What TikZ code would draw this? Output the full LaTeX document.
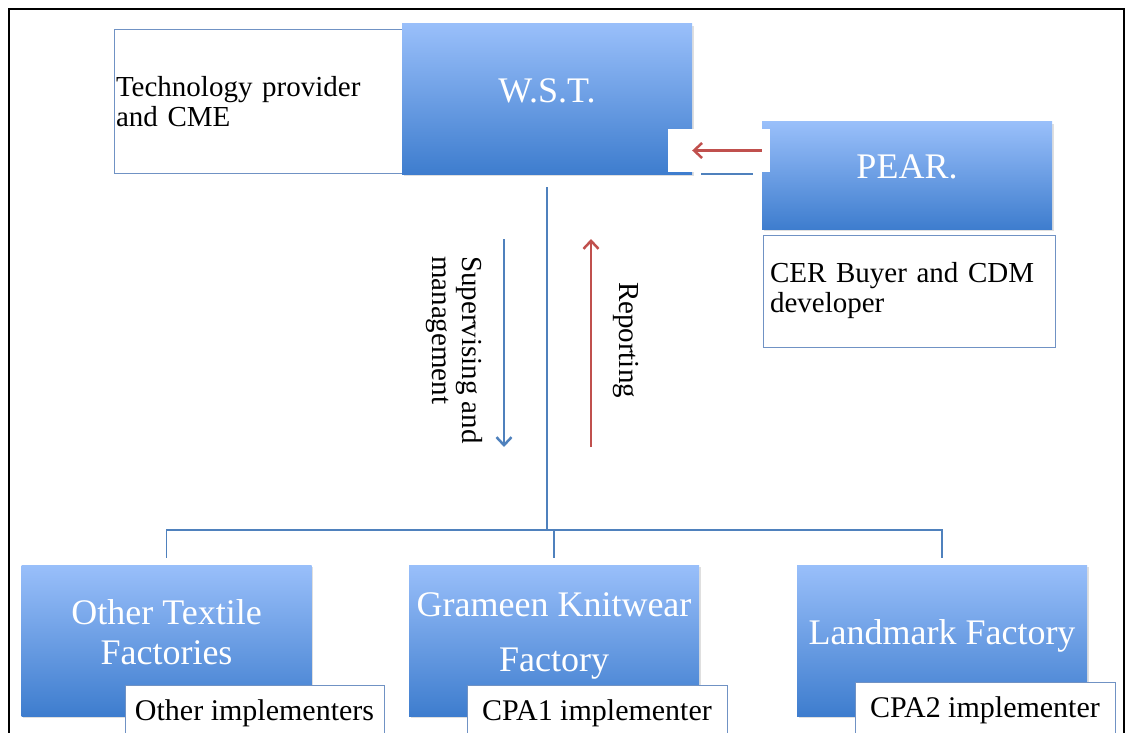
\documentclass[tikz,border=0pt]{standalone}
\usepackage{fontspec}
\setmainfont{Liberation Serif}
\usetikzlibrary{arrows.meta,shadows}
\definecolor{boxtop}{RGB}{153,191,250}
\definecolor{boxbot}{RGB}{62,125,206}
\definecolor{lineblue}{RGB}{79,129,189}
\definecolor{edgeblue}{RGB}{112,146,196}
\definecolor{arrowred}{RGB}{192,80,77}
\begin{document}
\begin{tikzpicture}[x=1pt,y=-1pt,
  bigbox/.style={top color=boxtop,bottom color=boxbot,text=white,align=center,
    inner sep=2pt,text depth=17pt,minimum width=290pt,
    drop shadow={shadow xshift=1.5pt,shadow yshift=-2pt,opacity=.25},
    font=\fontsize{36}{40}\selectfont},
  labelbox/.style={draw=edgeblue,line width=1pt,fill=white,inner sep=2pt,
    font=\fontsize{29}{30}\selectfont},
  conn/.style={draw=lineblue,line width=1.2pt},
  bluearrow/.style={lineblue,line width=2.5pt,-{Straight Barb[length=8pt,width=15pt]}},
  redarrow/.style={arrowred,line width=2.5pt,-{Straight Barb[length=8pt,width=15pt]}}]
\useasboundingbox (0,0) rectangle (1127,733);
\clip (0,0) rectangle (1127,733);
\draw[line width=2pt] (9,745) -- (9,9) -- (1124,9) -- (1124,745);

\node[labelbox,minimum width=291pt,minimum height=143pt,text width=287pt,align=left] (tech) at (259.5,101.5) {Technology provider\\and CME};
\node[bigbox,minimum height=150pt] (wst) at (547,99) {W.S.T.};
\node[bigbox,minimum height=107pt] (pear) at (907,175.5) {PEAR.};
\node[labelbox,minimum width=292pt,minimum height=112pt,inner xsep=7pt,text width=278pt,align=left] (cer) at (909,291) {CER Buyer and CDM\\developer};
\node[fill=white,minimum width=102pt,minimum height=43pt] (gap) at (719,150.5) {};
\draw[redarrow] (gap.center -| pear.west) -- (gap.center -| wst.east);
\draw[conn] (701,174) -- (753,174);

\node[bigbox,minimum height=151pt] (other) at (166.5,640.5) {Other Textile\\Factories};
\node[bigbox,minimum height=151pt] (grameen) at (554,640.5) {Grameen Knitwear\\[15pt]Factory};
\node[bigbox,minimum height=151pt] (landmark) at (942,640.5) {Landmark Factory};
\node[labelbox,minimum width=259pt,minimum height=56pt,font=\fontsize{30}{32}\selectfont] (otherimpl) at (254.5,713) {Other implementers};
\node[labelbox,minimum width=260pt,minimum height=56pt,font=\fontsize{30}{32}\selectfont] (cpa1) at (597,713) {CPA1 implementer};
\node[labelbox,minimum width=260pt,minimum height=56pt,font=\fontsize{30}{32}\selectfont] (cpa2) at (985,710) {CPA2 implementer};

\coordinate (bus) at (0,530);
\draw[conn] ([yshift=-13pt]wst.south) -- (wst.south |- bus);
\draw[conn] ([yshift=7pt]other.north) -- (other.north |- bus) -- (landmark.north |- bus) -- ([yshift=7pt]landmark.north);
\draw[conn] (grameen.north |- bus) -- ([yshift=7pt]grameen.north);

\coordinate (suptop) at (504,239);
\coordinate (supbot) at (504,447);
\coordinate (reptop) at (591,239);
\coordinate (repbot) at (591,447);
\draw[bluearrow] (suptop) -- (supbot);
\draw[redarrow] (repbot) -- (reptop);
\node[rotate=-90,align=left,font=\fontsize{29}{30}\selectfont] (suptxt) at (454,350) {Supervising and\\management};
\node[rotate=-90,font=\fontsize{29}{30}\selectfont] (reptxt) at (626,340) {Reporting};
\end{tikzpicture}
\end{document}
